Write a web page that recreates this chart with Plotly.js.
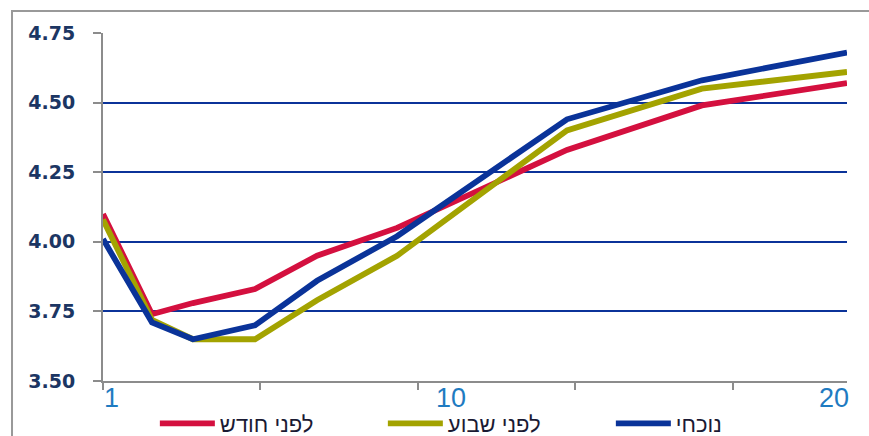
<!DOCTYPE html>
<html>
<head>
<meta charset="utf-8">
<script src="https://cdn.plot.ly/plotly-3.0.1.min.js"></script>
<style>html,body{margin:0;padding:0;background:#fff;}</style>
</head>
<body>
<div id="chart" style="width:869px;height:436px;"></div>
<script>
// Position of each point along the term axis (one unit = one tick interval)
const termPos = [0, 0.311, 0.571, 0.965, 1.359, 1.867, 2.946, 3.803, 4.724];
const seriesNames = ['לפני חודש', 'לפני שבוע', 'נוכחי'];
const monthAgo = [4.10, 3.74, 3.78, 3.83, 3.95, 4.05, 4.33, 4.49, 4.57];
const weekAgo  = [4.08, 3.72, 3.65, 3.65, 3.79, 3.95, 4.40, 4.55, 4.61];
const current  = [4.01, 3.71, 3.65, 3.70, 3.86, 4.02, 4.44, 4.58, 4.68];
const xTickVals = [0, 1, 2, 3, 4];
const xLabelText = ['1', '10', '20'];
const xLabelPos = [0.051, 2.21, 4.64];
const yTickVals = [3.50, 3.75, 4.00, 4.25, 4.50, 4.75];

const colors = ['#d4103f', '#a3a300', '#0a3399'];
const seriesData = [monthAgo, weekAgo, current];

const traces = seriesData.map((ys, i) => ({
  type: 'scatter', mode: 'lines', x: termPos, y: ys, name: seriesNames[i],
  line: {color: colors[i], width: 5.8}
}));

const annotations = xLabelText.map((t, i) => ({
  text: t, x: xLabelPos[i], xref: 'x', y: -0.004, yref: 'paper',
  yanchor: 'top', xanchor: 'center', showarrow: false, borderpad: 0,
  font: {family: 'Liberation Sans, Arial, sans-serif', size: 27, color: '#1f7bc1'}
}));

const layout = {
  width: 869, height: 436,
  margin: {l: 103, r: 22, t: 33, b: 55, autoexpand: false},
  paper_bgcolor: '#fff', plot_bgcolor: '#fff',
  showlegend: true,
  legend: {
    orientation: 'h', x: 0.0697, xanchor: 'left', y: -0.062, yanchor: 'top',
    font: {family: 'Liberation Sans, Arial, sans-serif', size: 22, color: '#1a1a33'},
    itemwidth: 55, entrywidth: 158, entrywidthmode: 'pixels',
    bgcolor: 'rgba(0,0,0,0)', itemclick: false
  },
  xaxis: {
    range: [0, 4.724], tickvals: xTickVals, showticklabels: false,
    ticks: 'outside', ticklen: 7, tickwidth: 2, tickcolor: '#8c8c8c',
    showline: true, linecolor: '#8c8c8c', linewidth: 2,
    showgrid: false, zeroline: false, fixedrange: true
  },
  yaxis: {
    range: [3.5, 4.75], tickvals: yTickVals, tickformat: '.2f',
    ticks: 'outside', ticklen: 8, tickwidth: 2, tickcolor: '#8c8c8c',
    showline: true, linecolor: '#8c8c8c', linewidth: 2,
    showgrid: true, gridcolor: '#0b3399', gridwidth: 2,
    zeroline: false, ticklabelstandoff: 14,
    tickfont: {family: 'DejaVu Sans, sans-serif', size: 19, color: '#1c3663', weight: 'bold'},
    fixedrange: true
  },
  shapes: [{
    type: 'rect', xref: 'paper', yref: 'paper',
    x0: -0.1223, x1: 1.3, y0: -0.4, y1: 1.0632,
    line: {color: '#999999', width: 2}, layer: 'below'
  }],
  annotations: annotations
};

Plotly.newPlot('chart', traces, layout, {displayModeBar: false, staticPlot: true});
</script>
</body>
</html>
